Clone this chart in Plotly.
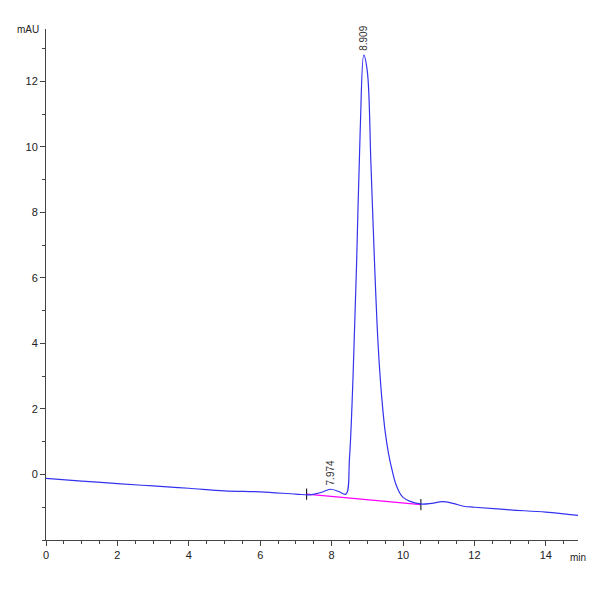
import plotly.graph_objects as go

# chromatogram
time = [0, 1, 2, 3, 4, 5, 6, 7, 7.4, 7.7, 7.97, 8.2, 8.4, 8.5, 8.6, 8.7, 8.8, 8.9,
        9.0, 9.1, 9.2, 9.3, 9.4, 9.5, 9.6, 9.7, 9.8, 9.9, 10.0, 10.2, 10.5, 10.8,
        11.1, 11.4, 11.7, 12, 13, 14, 14.9]
signal = [-0.12, -0.2, -0.28, -0.35, -0.42, -0.5, -0.53, -0.6, -0.62, -0.55, -0.45,
          -0.52, -0.6, 0.5, 3.0, 6.5, 10.5, 12.8, 12.3, 9.5, 6.5, 4.0, 2.4, 1.3, 0.6,
          0.1, -0.3, -0.55, -0.7, -0.82, -0.9, -0.88, -0.83, -0.88, -0.97, -1.0,
          -1.08, -1.15, -1.25]
base_t = [7.3, 10.5]
base_v = [-0.6, -0.92]
peak_t = [7.974, 8.909]
peak_v = [-0.45, 12.8]
peak_lbl = ["7.974", "8.909"]

fig = go.Figure()
fig.add_trace(go.Scatter(x=base_t, y=base_v, mode="lines+markers",
                         line=dict(color="#ff00ff", width=1.2),
                         marker=dict(symbol="line-ns", size=8, line=dict(color="black", width=1))))
fig.add_trace(go.Scatter(x=time, y=signal, mode="lines", line=dict(color="#3333ee", width=1.2, shape="spline")))
for t, v, s in zip(peak_t, peak_v, peak_lbl):
    fig.add_annotation(x=t, y=v, text=s, textangle=-90, showarrow=False,
                       yanchor="bottom", yshift=2, font=dict(size=10, color="#333"))

fig.add_annotation(xref="paper", yref="paper", x=-0.01, y=1.0, text="mAU", showarrow=False,
                   xanchor="right", yanchor="middle", font=dict(size=10))
fig.add_annotation(xref="paper", yref="paper", x=1.0, y=-0.02, text="min", showarrow=False,
                   xanchor="center", yanchor="top", font=dict(size=10))

fig.update_layout(
    width=600, height=600, showlegend=False,
    plot_bgcolor="white", paper_bgcolor="white",
    margin=dict(l=38, r=30, t=21, b=68),
    font=dict(family="Liberation Sans", size=11, color="#222"),
)
fig.update_xaxes(range=[0, 14.9], dtick=2, showgrid=False, zeroline=False,
                 showline=True, linecolor="#444", ticks="outside", ticklen=5,
                 minor=dict(dtick=0.5, ticks="outside", ticklen=3))
fig.update_yaxes(range=[-2, 13.6], tickvals=[0, 2, 4, 6, 8, 10, 12], showgrid=False,
                 zeroline=False, showline=True, linecolor="#444", ticks="outside",
                 ticklen=5, minor=dict(dtick=1, ticks="outside", ticklen=3))

fig.write_html("out.html")
